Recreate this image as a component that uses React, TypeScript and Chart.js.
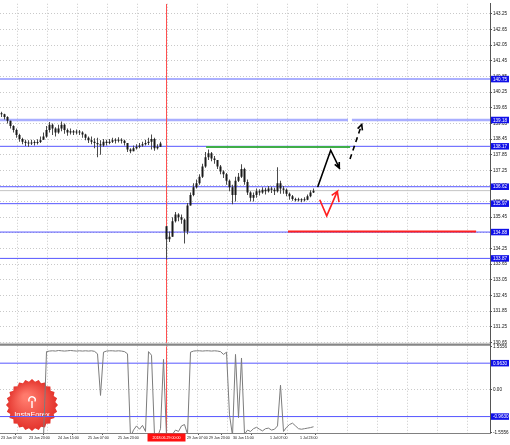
import { useEffect, useRef } from "react";
import { Chart, registerables } from "chart.js";

Chart.register(...registerables);

// ---------- data ----------
const highs = [
  139.50, 139.42, 139.32, 139.15, 138.98, 138.85, 138.65, 138.50, 138.42, 138.40,
  138.42, 138.40, 138.44, 138.55, 138.70, 138.95, 139.10, 139.05, 138.90, 139.00,
  139.12, 139.05, 138.85, 138.85, 138.80, 138.82, 138.80, 138.75, 138.65, 138.55,
  138.55, 138.48, 138.50, 138.40, 138.45, 138.42, 138.45, 138.50, 138.48, 138.52,
  138.48, 138.42, 138.30, 138.10, 138.20, 138.25, 138.30, 138.35, 138.42, 138.50,
  138.62, 138.50, 138.25, 138.35, null,
  135.10, 134.90, 135.45, 135.65, 135.60, 135.55, 135.40, 136.00, 136.40, 136.75,
  136.90, 137.10, 137.50, 137.95, 138.05, 137.95, 137.80, 137.65, 137.45, 137.25,
  137.15, 136.90, 136.70, 137.00, 137.15, 137.48, 137.35, 136.90, 136.45, 136.40,
  136.55, 136.52, 136.60, 136.58, 136.65, 136.62, 136.58, 137.37, 136.85, 136.65,
  136.55, 136.40, 136.30, 136.20, 136.20, 136.18, 136.22, 136.32, 136.48, 136.55,
];
const lows = [
  139.30, 139.20, 139.05, 138.85, 138.70, 138.50, 138.35, 138.25, 138.18, 138.15,
  138.22, 138.20, 138.24, 138.30, 138.42, 138.50, 138.70, 138.60, 138.55, 138.65,
  138.75, 138.65, 138.58, 138.62, 138.60, 138.62, 138.60, 138.50, 138.40, 138.30,
  138.25, 138.10, 137.75, 137.85, 138.15, 138.20, 138.25, 138.30, 138.28, 138.32,
  138.28, 138.20, 137.95, 137.90, 137.98, 138.05, 138.10, 138.15, 138.20, 138.22,
  138.05, 138.00, 138.05, 138.15, null,
  133.83, 134.50, 134.70, 135.25, 135.30, 135.20, 134.44, 134.80, 135.90, 136.25,
  136.55, 136.70, 136.95, 137.35, 137.65, 137.60, 137.50, 137.30, 137.10, 136.95,
  136.70, 136.45, 135.95, 136.05, 136.80, 136.95, 136.70, 136.30, 136.05, 136.05,
  136.20, 136.28, 136.35, 136.32, 136.40, 136.38, 136.30, 136.40, 136.35, 136.35,
  136.25, 136.12, 136.08, 136.05, 136.05, 136.02, 136.05, 136.10, 136.22, 136.38,
];
const closes = [
  139.40, 139.30, 139.15, 138.95, 138.80, 138.60, 138.45, 138.35, 138.30, 138.28,
  138.32, 138.30, 138.34, 138.40, 138.55, 138.80, 139.00, 138.85, 138.70, 138.85,
  139.00, 138.80, 138.70, 138.75, 138.70, 138.72, 138.70, 138.62, 138.50, 138.40,
  138.35, 138.30, 138.25, 138.20, 138.35, 138.30, 138.35, 138.40, 138.38, 138.42,
  138.38, 138.30, 138.05, 137.98, 138.10, 138.15, 138.20, 138.25, 138.30, 138.35,
  138.45, 138.10, 138.15, 138.28, null,
  134.60, 134.70, 135.30, 135.55, 135.45, 135.35, 134.90, 135.90, 136.30, 136.60,
  136.75, 137.00, 137.40, 137.75, 137.90, 137.70, 137.65, 137.40, 137.20, 137.10,
  136.85, 136.60, 136.30, 136.85, 137.00, 137.30, 136.80, 136.40, 136.20, 136.30,
  136.45, 136.40, 136.50, 136.45, 136.55, 136.50, 136.45, 136.75, 136.55, 136.50,
  136.35, 136.25, 136.15, 136.10, 136.12, 136.10, 136.12, 136.25, 136.40, 136.47,
];
const indicator = [
  -1.70, -1.70, -1.70, -1.70, -1.70, -1.70, -1.70, -1.70, -1.70, -1.70,
  -1.70, -1.70, -1.70, -1.70, -1.70, 1.38, 1.40, 1.41, 1.40, 1.42,
  1.41, 1.40, 1.41, 1.42, 1.41, 1.40, 1.41, 1.40, 1.41, 1.40,
  1.41, 1.39, 1.30, -0.20, 1.36, 1.40, 1.41, 1.41, 1.40, 1.41,
  1.40, 1.38, 1.30, -1.70, -1.45, -1.30, -1.42, -1.28, -1.50, 1.38,
  1.25, -1.65, -1.70, -1.40, 1.10, -1.70, -1.70, -1.60, -1.45, -1.50,
  -1.30, -1.25, -1.60, 1.36, 1.40, 1.41, 1.41, 1.40, 1.41, 1.41,
  1.40, 1.41, 1.40, 1.38, 1.28, 1.36, -0.90, -1.65, 1.28, -1.00,
  1.15, -1.60, -1.45, -1.50, -1.40, -1.35, -1.42, -1.48, -1.40, -1.38,
  -1.45, -1.42, -1.30, 0.17, -1.50, -1.35, -1.25, -1.20, -1.30, -1.40,
  -1.42, -1.40, -1.38, -1.36, -1.33,
];

const priceTicks = [
  143.25, 142.65, 142.05, 141.45, 140.85, 140.25, 139.65, 139.05, 138.45, 137.85,
  137.25, 136.65, 136.05, 135.45, 134.85, 134.25, 133.65, 133.05, 132.45, 131.85,
  131.25, 130.65,
];
const indicatorTicks = [1.5556, 0, -1.5556];
const timeLabels = [
  "23 Jun 07:00", "23 Jun 23:00", "24 Jun 15:00", "25 Jun 07:00", "25 Jun 23:00",
  "29 Jun 07:00", "29 Jun 23:00", "30 Jun 15:00", "1 Jul 07:00", "1 Jul 23:00",
];
const timeLabelBars = [-0.17, 9.17, 18.83, 28.83, 38.83, 61.83, 69.17, 77.17, 89.5, 99.5];
const markerBar = 55;
const markerLabel = "2018.06.29 00:00";

const lightLevels = [140.75];
const level139 = 139.18;
const blueLevels = [138.17, 136.62, 135.97, 134.88, 133.87];
const bidPrice = 136.47;
const boxLevels = [140.75, 139.18, 138.17, 136.62, 135.97, 134.88, 133.87];
const indicatorLevels = [0.963, -0.963];
const greenLevel = 138.14;
const greenSpan = [68.2, 116.2];
const redLevel = 134.9;
const redSpan = [95.5, 158.2];

const arrowBlack = [[105.4, 136.61], [109.73, 138.02], [112.6, 137.34], [112.57, 137.57], [112.6, 137.34], [111.07, 137.48]];
const arrowDashShaft = [[116.17, 137.68], [120.07, 139.01]];
const arrowDashHead = [[118.7, 138.85], [120.07, 139.01], [120.3, 138.78]];
const arrowRed = [[106.07, 136.12], [108.4, 135.5], [111.93, 136.44], [110.07, 136.29], [111.93, 136.44], [112.5, 136.03]];

// ---------- layout constants ----------
const X_MIN = -0.5;
const X_MAX = 162.83;
const Y_MIN = 130.48;
const Y_MAX = 143.64;
const I_MIN = -1.5556;
const I_MAX = 1.5556;
const FONT = "'Liberation Sans', Arial, sans-serif";

function hLine(v: number, from: number, to: number, color: string, width: number, axis = "y", order = 6, dash: number[] = []) {
  return {
    type: "line",
    xAxisID: "x",
    yAxisID: axis,
    data: [{ x: from, y: v }, { x: to, y: v }],
    borderColor: color,
    borderWidth: width,
    borderDash: dash,
    pointRadius: 0,
    fill: false,
    order,
  };
}

function path(points: number[][], color: string, width: number, dash: number[] = []) {
  return {
    type: "line",
    xAxisID: "x",
    yAxisID: "y",
    data: points.map((p) => ({ x: p[0], y: p[1] })),
    borderColor: color,
    borderWidth: width,
    borderDash: dash,
    pointRadius: 0,
    fill: false,
    tension: 0,
    order: 0,
  };
}

function buildDatasets() {
  const wicks: any[] = [];
  const bodies: any[] = [];
  let prev: number | null = null;
  closes.forEach((c, i) => {
    const h = highs[i];
    const l = lows[i];
    if (c == null || h == null || l == null) return;
    wicks.push({ x: i, y: [l, h] });
    let o = prev == null ? c : prev;
    o = Math.min(h, Math.max(l, o));
    bodies.push({ x: i, y: [Math.min(o, c), Math.max(o, c)] });
    prev = c;
  });

  const ds: any[] = [];
  ds.push(path(arrowBlack, "#000000", 1.6));
  ds.push(path(arrowDashShaft, "#000000", 1.6, [5, 4]));
  ds.push(path(arrowDashHead, "#000000", 1.6));
  ds.push(path(arrowRed, "#ff2020", 1.6));
  ds.push({
    type: "bar", xAxisID: "x", yAxisID: "y", data: bodies,
    backgroundColor: "#1a1a1a", maxBarThickness: 2, grouped: false, minBarLength: 1, order: 2,
  });
  ds.push({
    type: "bar", xAxisID: "x", yAxisID: "y", data: wicks,
    backgroundColor: "#4a4a4a", maxBarThickness: 1, grouped: false, order: 3,
  });
  ds.push({
    type: "line", xAxisID: "x", yAxisID: "y2",
    data: indicator.map((v, i) => ({ x: i, y: v })),
    borderColor: "#7c7c7c", borderWidth: 1, pointRadius: 0, tension: 0, fill: false, order: 4,
  });
  ds.push(hLine(greenLevel, greenSpan[0], greenSpan[1], "#3fae49", 2, "y", 5));
  ds.push(hLine(redLevel, redSpan[0], redSpan[1], "#ff2020", 2, "y", 5));
  lightLevels.forEach((v) => ds.push(hLine(v, X_MIN, X_MAX, "#8f96ff", 1.5)));
  ds.push(hLine(level139, X_MIN, 115.5, "#a9aeff", 2.5));
  ds.push(hLine(level139, 116.8, X_MAX, "#a9aeff", 2.5));
  blueLevels.forEach((v) => ds.push(hLine(v, X_MIN, X_MAX, "#5656ff", 1)));
  ds.push(hLine(bidPrice, X_MIN, X_MAX, "#c4c4c4", 1, "y", 7));
  indicatorLevels.forEach((v) => ds.push(hLine(v, X_MIN, X_MAX, "#5656ff", 1, "y2")));
  ds.push({
    type: "line", xAxisID: "x", yAxisID: "y",
    data: [{ x: markerBar, y: Y_MIN }, { x: markerBar, y: Y_MAX }],
    borderColor: "#ff5050", borderWidth: 1, pointRadius: 0, order: 5,
  });
  ds.push({
    type: "line", xAxisID: "x", yAxisID: "y2",
    data: [{ x: markerBar, y: I_MIN }, { x: markerBar, y: I_MAX }],
    borderColor: "#ff5050", borderWidth: 1, pointRadius: 0, order: 5,
  });
  return ds;
}

function drawBox(ctx: CanvasRenderingContext2D, x: number, y: number, text: string, fill: string) {
  ctx.font = `4.6px ${FONT}`;
  const w = 18;
  const h = 6.5;
  ctx.fillStyle = fill;
  ctx.fillRect(x, y - h / 2, w, h);
  ctx.fillStyle = "#ffffff";
  ctx.textAlign = "left";
  ctx.textBaseline = "middle";
  ctx.fillText(text, x + 2, y + 0.3);
}

const overlayPlugin = {
  id: "overlay",
  beforeDatasetsDraw(chart: any) {
    const ctx: CanvasRenderingContext2D = chart.ctx;
    // InstaForex badge
    const cx = 32, cy = 405, ro = 26, ri = 23.5, n = 24;
    ctx.save();
    const g = ctx.createRadialGradient(cx - 6, cy - 8, 3, cx, cy, ro);
    g.addColorStop(0, "#ff7a6c");
    g.addColorStop(1, "#e3322b");
    ctx.fillStyle = g;
    ctx.beginPath();
    for (let k = 0; k < n * 2; k++) {
      const r = k % 2 === 0 ? ro : ri;
      const a = (Math.PI * k) / n - Math.PI / 2;
      const px = cx + r * Math.cos(a);
      const py = cy + r * Math.sin(a);
      if (k === 0) ctx.moveTo(px, py); else ctx.lineTo(px, py);
    }
    ctx.closePath();
    ctx.fill();
    ctx.strokeStyle = "#ffffff";
    ctx.fillStyle = "#ffffff";
    ctx.lineWidth = 1.4;
    ctx.beginPath();
    ctx.arc(cx, cy - 5, 3.2, Math.PI * 0.15, Math.PI * 0.85, true);
    ctx.stroke();
    ctx.beginPath();
    ctx.moveTo(cx, cy - 4);
    ctx.lineTo(cx, cy + 3);
    ctx.stroke();
    ctx.font = `7.5px ${FONT}`;
    ctx.textAlign = "center";
    ctx.textBaseline = "middle";
    ctx.fillText("InstaForex", cx, cy + 10);
    ctx.restore();
  },
  afterDraw(chart: any) {
    const ctx: CanvasRenderingContext2D = chart.ctx;
    const area = chart.chartArea;
    const ys = chart.scales.y;
    const y2s = chart.scales.y2;
    const xs = chart.scales.x;
    ctx.save();
    // window separator
    ctx.fillStyle = "#d0d0d0";
    ctx.fillRect(0, ys.bottom - 4, area.right, 1);
    ctx.fillStyle = "#868686";
    ctx.fillRect(0, ys.bottom - 3, area.right, 2);
    // price boxes
    boxLevels.forEach((v) => {
      drawBox(ctx, area.right + 1, ys.getPixelForValue(v), v.toFixed(2), "#1010e8");
    });
    indicatorLevels.forEach((v) => {
      drawBox(ctx, area.right + 1, y2s.getPixelForValue(v), v.toFixed(4), "#1010e8");
    });
    // marker date label
    ctx.font = `3.6px ${FONT}`;
    const tw = ctx.measureText(markerLabel).width;
    const mx = xs.getPixelForValue(markerBar);
    ctx.fillStyle = "#ff1010";
    ctx.fillRect(mx - tw / 2 - 5, area.bottom + 0.5, tw + 10, 8);
    ctx.fillStyle = "#ffffff";
    ctx.textAlign = "center";
    ctx.textBaseline = "middle";
    ctx.fillText(markerLabel, mx, area.bottom + 4.6);
    ctx.restore();
  },
};

export default function App() {
  const ref = useRef<HTMLCanvasElement>(null);
  useEffect(() => {
    document.body.style.margin = "0";
    document.body.style.background = "#ffffff";
    Chart.defaults.font.family = FONT;
    const gridColor = "#c9c9c9";
    const chart = new Chart(ref.current as HTMLCanvasElement, {
      type: "line",
      data: { datasets: buildDatasets() as any },
      plugins: [overlayPlugin as any],
      options: {
        animation: false,
        responsive: false,
        devicePixelRatio: 1,
        events: [],
        layout: { padding: 0 },
        plugins: { legend: { display: false }, tooltip: { enabled: false } },
        scales: {
          x: {
            type: "linear",
            position: "bottom",
            min: X_MIN,
            max: X_MAX,
            offset: false,
            afterBuildTicks: (s: any) => {
              s.ticks = timeLabelBars.map((v) => ({ value: v }));
            },
            afterFit: (s: any) => {
              s.height = 12;
            },
            ticks: {
              autoSkip: false,
              maxRotation: 0,
              minRotation: 0,
              align: "start",
              padding: 1,
              color: "#111",
              font: { size: 3.6 },
              callback: (_v: any, i: number) => timeLabels[i],
            },
            grid: { display: true, drawOnChartArea: false, drawTicks: true, tickLength: 2, tickColor: "#555" },
            border: { display: true, color: "#808080" },
          },
          xg: {
            type: "linear",
            position: "bottom",
            min: X_MIN,
            max: X_MAX,
            offset: false,
            afterBuildTicks: (s: any) => {
              const t: any[] = [];
              for (let k = 0; k < 16; k++) t.push({ value: 5.17 + 10 * k });
              s.ticks = t;
            },
            afterFit: (s: any) => {
              s.height = 0;
            },
            ticks: { display: false },
            grid: { display: true, drawTicks: false, color: gridColor, lineWidth: 1 },
            border: { display: false, dash: [1, 2] },
          },
          y: {
            type: "linear",
            position: "right",
            stack: "win",
            stackWeight: 346,
            weight: 0,
            min: Y_MIN,
            max: Y_MAX,
            afterBuildTicks: (s: any) => {
              s.ticks = priceTicks.map((v) => ({ value: v }));
            },
            afterFit: (s: any) => {
              s.width = 20;
            },
            ticks: {
              autoSkip: false,
              padding: 1,
              color: "#111",
              font: { size: 4.6 },
              callback: (v: any) => Number(v).toFixed(2),
            },
            grid: { color: gridColor, tickLength: 2, tickColor: "#555" },
            border: { display: true, color: "#555", dash: [1, 2] },
          },
          y2: {
            type: "linear",
            position: "right",
            stack: "win",
            stackWeight: 87,
            weight: 1,
            min: I_MIN,
            max: I_MAX,
            afterBuildTicks: (s: any) => {
              s.ticks = indicatorTicks.map((v) => ({ value: v }));
            },
            afterFit: (s: any) => {
              s.width = 20;
            },
            ticks: {
              autoSkip: false,
              padding: 1,
              color: "#111",
              font: { size: 4.6 },
              callback: (v: any) => (Number(v) === 0 ? "0.00" : Number(v).toFixed(4)),
            },
            grid: {
              color: (c: any) => (c.tick && Math.abs(c.tick.value) > 1 ? "rgba(0,0,0,0)" : gridColor),
              tickLength: 2,
              tickColor: "#555",
            },
            border: { display: true, color: "#555", dash: [1, 2] },
          },
        },
      } as any,
    });
    return () => chart.destroy();
  }, []);
  return <canvas ref={ref} width={510} height={445} style={{ display: "block", width: 510, height: 445 }} />;
}
